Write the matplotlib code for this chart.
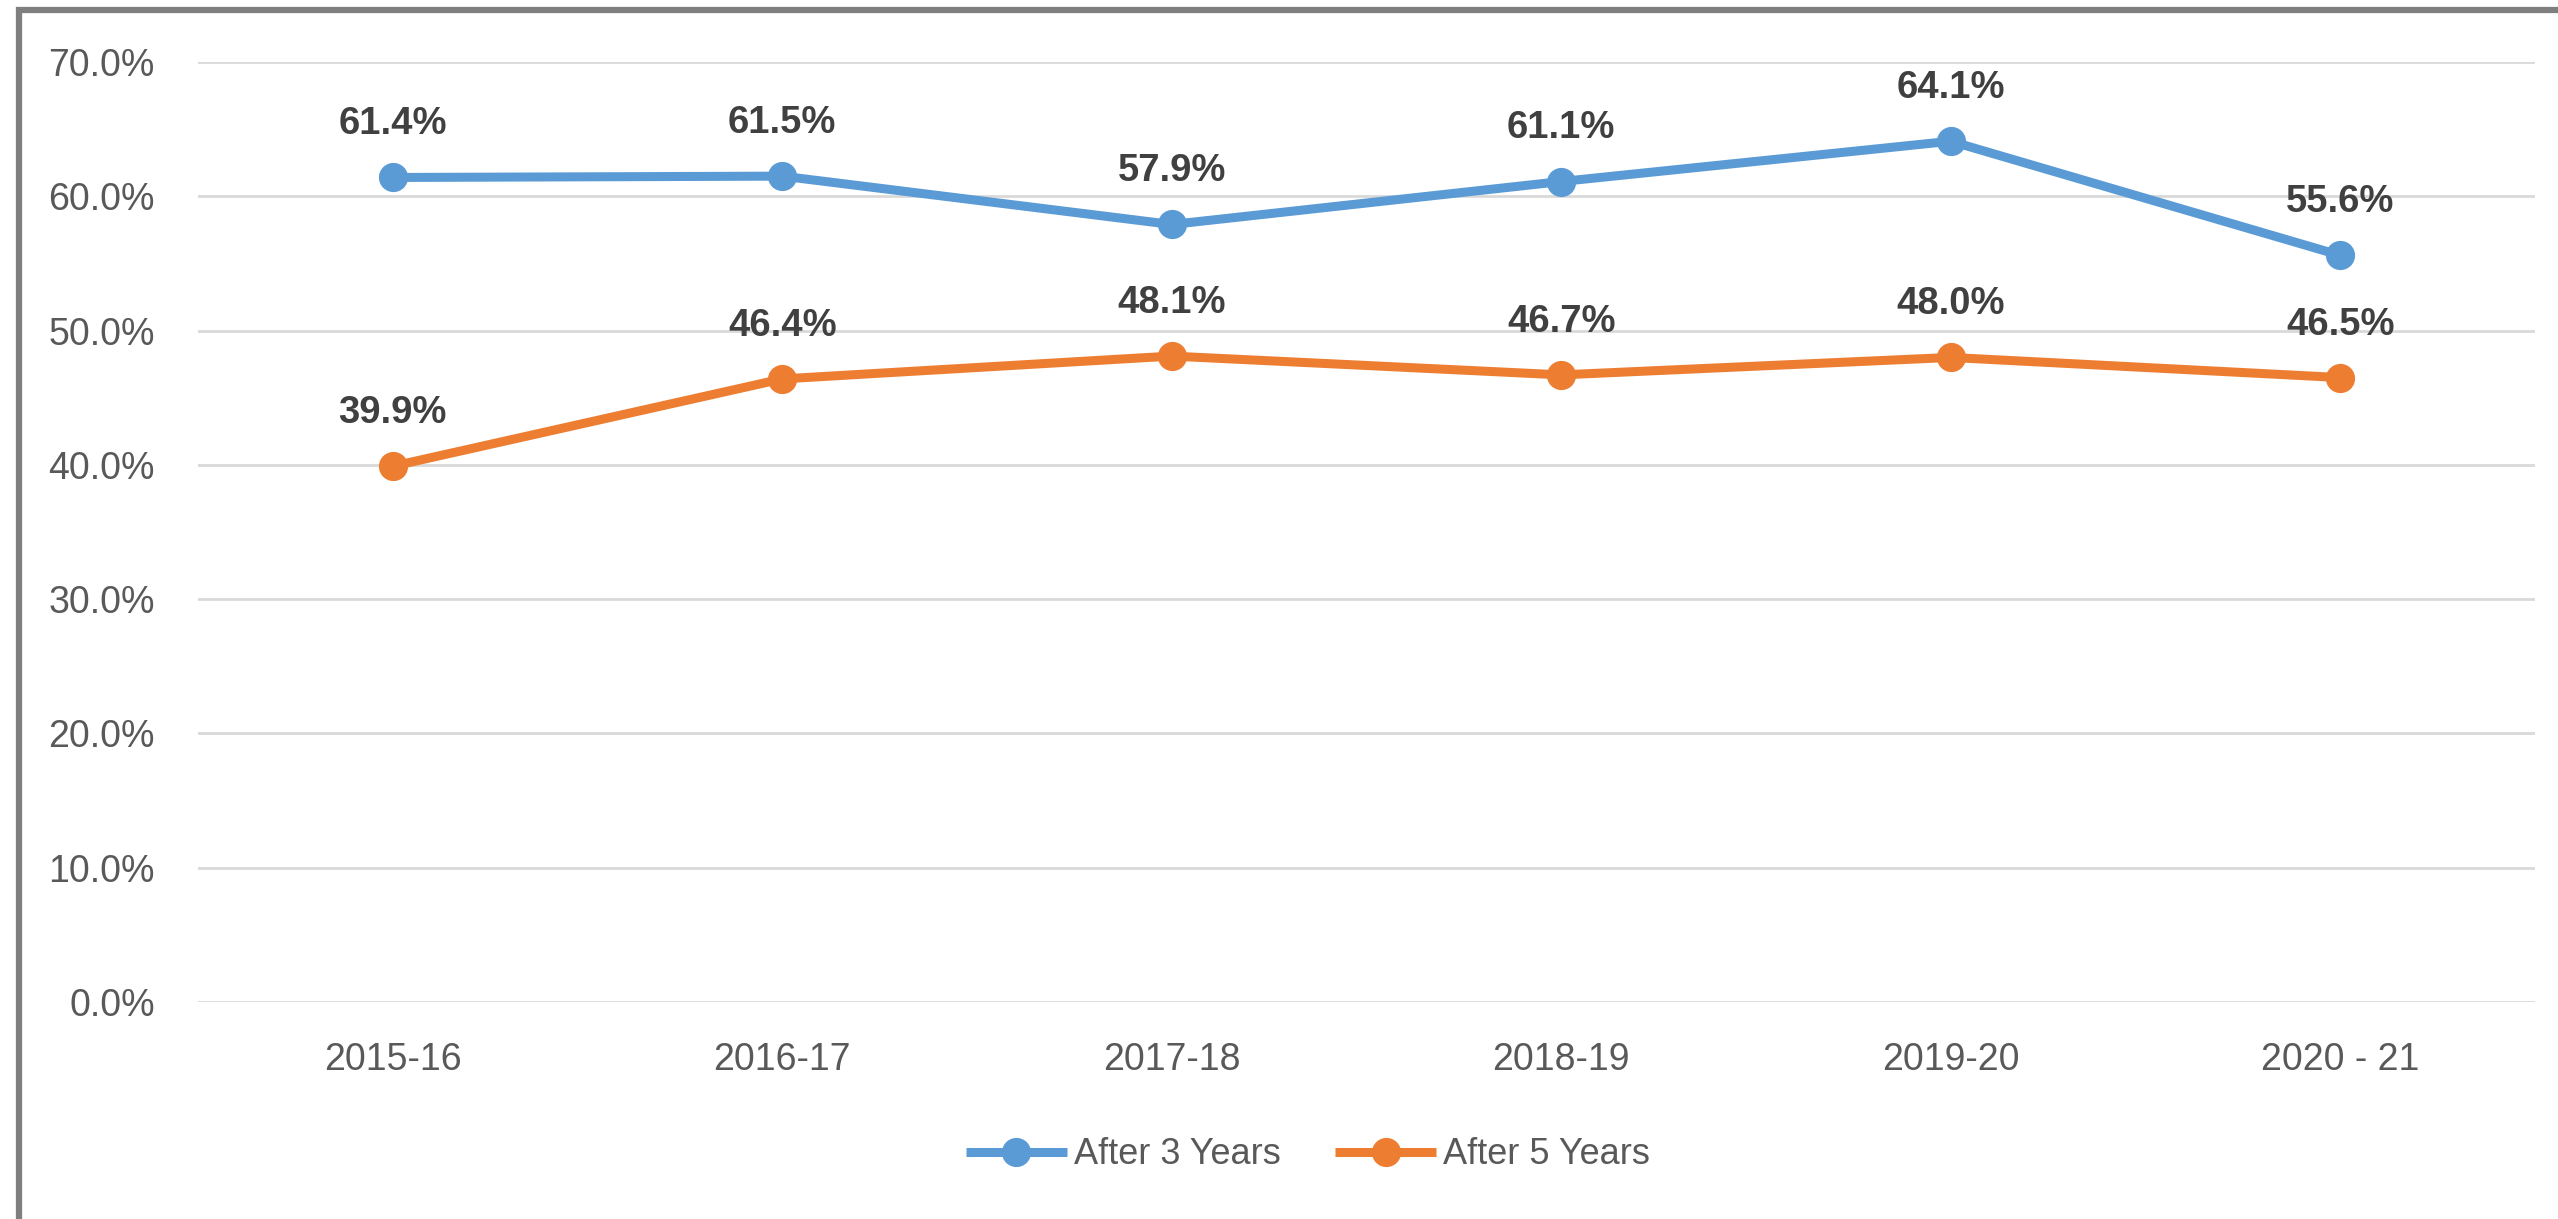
import matplotlib
matplotlib.use("Agg")
import matplotlib.pyplot as plt
from matplotlib.patches import Rectangle

# data
years = ["2015-16", "2016-17", "2017-18", "2018-19", "2019-20", "2020 - 21"]
after_3 = [61.4, 61.5, 57.9, 61.1, 64.1, 55.6]
after_5 = [39.9, 46.4, 48.1, 46.7, 48.0, 46.5]
y_ticks = [0, 10, 20, 30, 40, 50, 60, 70]

blue = "#5B9BD5"
orange = "#ED7D31"
plt.rcParams["font.family"] = ["Liberation Sans", "DejaVu Sans"]

W, H = 2558, 1219
fig = plt.figure(figsize=(W / 100, H / 100), dpi=100)
ax = fig.add_axes([198 / W, 1 - 1002 / H, (2535 - 198) / W, (1002 - 62) / H])

x = list(range(len(years)))
for vals, col, lab in [(after_3, blue, "After 3 Years"), (after_5, orange, "After 5 Years")]:
    ax.plot(x, vals, color=col, lw=6.5, marker="o", ms=20, label=lab,
            solid_capstyle="butt", zorder=3)
    for xi, v in zip(x, vals):
        ax.annotate(f"{v:.1f}%", (xi, v), xytext=(0, 31), textcoords="offset points",
                    ha="center", va="baseline", fontsize=27.5, fontweight="bold",
                    color="#404040")

ax.set_xlim(-0.5, len(years) - 0.5)
ax.set_ylim(0, 70)
ax.set_xticks(x)
ax.set_xticklabels(years)
ax.set_yticks(y_ticks)
ax.set_yticklabels([f"{t:.1f}%" for t in y_ticks])
ax.tick_params(axis="both", length=0, labelsize=27, labelcolor="#595959")
ax.tick_params(axis="x", pad=29)
ax.tick_params(axis="y", pad=31)
ax.grid(axis="y", color="#D9D9D9", lw=2)
ax.set_axisbelow(True)
for s in ax.spines.values():
    s.set_visible(False)

leg = fig.legend(loc="center", bbox_to_anchor=(1308 / W, 1 - 1155 / H), ncol=2,
                 frameon=False, fontsize=26, handlelength=2.8, handletextpad=0.2,
                 columnspacing=1.5, labelcolor="#595959")

# chart border (only top and left visible)
fig.patches.append(Rectangle((19 / W, -0.2), 1.5, 1.2 - 10 / H, transform=fig.transFigure,
                             fill=False, edgecolor="#7F7F7F", lw=4.5, clip_on=False))

fig.savefig("out.png", dpi=100)
